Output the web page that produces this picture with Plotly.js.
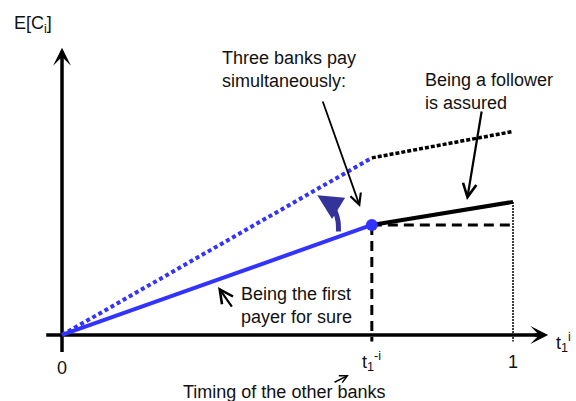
<!DOCTYPE html>
<html>
<head>
<meta charset="utf-8">
<script src="https://cdn.plot.ly/plotly-3.0.1.min.js"></script>
<style>
  html, body { margin: 0; padding: 0; background: #fff; }
  #chart { width: 576px; height: 401px; }
</style>
</head>
<body>
<div id="chart"></div>
<script>
// timing of the other banks on the [0, 1] axis
const tOther = 0.687;

// expected cost levels
const firstPayerEnd = [0, 1.0];          // blue solid, 0 -> t1^-i
const jointPayEnd = [0, 1.61];           // blue dotted, 0 -> t1^-i
const jointAfter = [1.61, 1.85];         // black dotted, t1^-i -> 1
const followerAfter = [1.0, 1.21];       // black solid, t1^-i -> 1
const tickFloor = -0.06;

const xTickVals = [0, tOther, 1];
const xTickText = ["0", "t<sub>1</sub><sup>-i</sup>", "1"];

// rotation arrow next to the kink
const arcX = [0.613, 0.612, 0.607, 0.599, 0.59];
const arcY = [0.94, 1.035, 1.11, 1.17, 1.21];
const arcTip = [0.566, 1.27];

const BLUE = "#3333ff";
const NAVY = "#333399";
const FONT = { family: "Liberation Sans, Arial, sans-serif", size: 18, color: "#111" };

const traces = [
  // axes
  { x: [-0.035, 1.06], y: [0, 0], mode: "lines", line: { color: "#000", width: 3.5 } },
  { x: [0, 0], y: [-0.155, 2.58], mode: "lines", line: { color: "#000", width: 3.5 } },
  // guides
  { x: [tOther, 1], y: [firstPayerEnd[1], firstPayerEnd[1]], mode: "lines",
    line: { color: "#000", width: 3, dash: "10px,6px" } },
  { x: [tOther, tOther], y: [firstPayerEnd[1], tickFloor], mode: "lines",
    line: { color: "#000", width: 3, dash: "10px,6px" } },
  { x: [1, 1], y: [followerAfter[1], tickFloor], mode: "lines",
    line: { color: "#000", width: 1.5, dash: "2px,1px" } },
  // payoff lines
  { x: [0, tOther], y: jointPayEnd, mode: "lines", line: { color: BLUE, width: 4, dash: "4px,3px" } },
  { x: [tOther, 1], y: jointAfter, mode: "lines", line: { color: "#000", width: 3.5, dash: "4px,2px" } },
  { x: [0, tOther], y: firstPayerEnd, mode: "lines", line: { color: BLUE, width: 4 } },
  { x: [tOther, 1], y: followerAfter, mode: "lines", line: { color: "#000", width: 4 } },
  { x: [tOther], y: [firstPayerEnd[1]], mode: "markers", marker: { color: BLUE, size: 12 } },
  // curved arrow body
  { x: arcX, y: arcY, mode: "lines", line: { color: NAVY, width: 5, shape: "spline" } }
];

function arrow(x, y, ax, ay, opts) {
  return Object.assign({
    x, y, ax, ay, xref: "x", yref: "y", axref: "x", ayref: "y", text: "",
    showarrow: true, arrowhead: 5, arrowsize: 1.2, arrowwidth: 2, arrowcolor: "#000", standoff: 0
  }, opts || {});
}

function label(text, x, y, opts) {
  return Object.assign({
    text, x, y, xref: "x", yref: "y", showarrow: false, font: FONT, align: "left"
  }, opts || {});
}

const annotations = [
  // axis heads
  arrow(1.078, 0, 1.045, 0, { arrowhead: 3, arrowsize: 0.85, arrowwidth: 3.5 }),
  arrow(0, 2.61, 0, 2.52, { arrowhead: 3, arrowsize: 0.85, arrowwidth: 3.5 }),
  // curved arrow head
  arrow(arcTip[0], arcTip[1], arcX[arcX.length - 1], arcY[arcY.length - 1],
    { arrowhead: 2, arrowsize: 1.0, arrowwidth: 5, arrowcolor: NAVY }),
  // pointers
  arrow(0.661, 1.164, 0.577, 2.136, { arrowwidth: 1.8 }),
  arrow(0.898, 1.227, 0.931, 2.045, { arrowwidth: 2.2 }),
  arrow(0.346, 0.436, 0.379, 0.245, { arrowwidth: 2.2 }),
  arrow(0.636, -0.364, 0.601, -0.436, { arrowwidth: 1.5, arrowsize: 1 }),
  // texts
  label("E[C<sub>i</sub>]", -0.064, 2.82),
  label("t<sub>1</sub><sup>i</sup>", 1.113, -0.07),
  label("Three banks pay<br>simultaneously:", 0.503, 2.41),
  label("Being a follower<br>is assured", 0.947, 2.21),
  label("Being the first<br>payer for sure", 0.393, 0.27, { xanchor: "left" }),
  label("Timing of the other banks", 0.492, -0.52)
];

xTickVals.forEach((v, i) => {
  annotations.push(label(xTickText[i], v, i === 0 ? -0.3 : -0.245));
});

const layout = {
  width: 576,
  height: 401,
  margin: { l: 0, r: 0, t: 0, b: 0 },
  paper_bgcolor: "#fff",
  plot_bgcolor: "#fff",
  showlegend: false,
  xaxis: { range: [-0.1375, 1.1397], visible: false, fixedrange: true },
  yaxis: { range: [-0.6, 3.045], visible: false, fixedrange: true },
  annotations
};

Plotly.newPlot("chart", traces, layout, { displayModeBar: false, staticPlot: true });
</script>
</body>
</html>
